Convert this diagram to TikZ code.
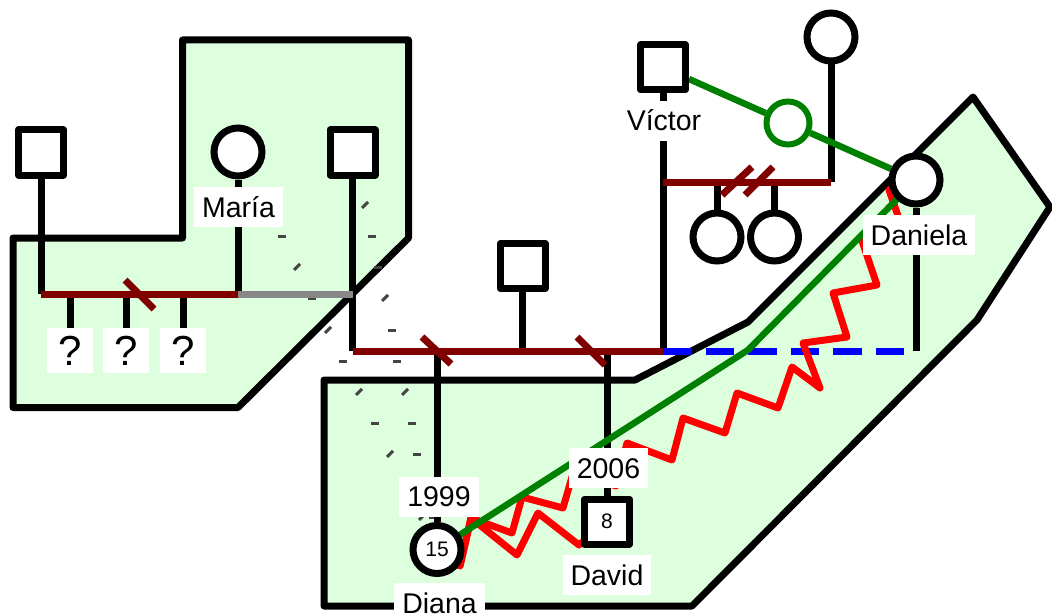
\documentclass[tikz,border=0pt]{standalone}
\usepackage{fontspec}
\setmainfont{Liberation Sans}
\definecolor{regfill}{RGB}{221,255,221}
\definecolor{mred}{RGB}{128,0,0}
\definecolor{rgrey}{RGB}{136,136,136}
\definecolor{rgreen}{RGB}{0,128,0}
\definecolor{tickgrey}{RGB}{68,68,68}
\pgfdeclarelayer{bg}
\pgfdeclarelayer{mid}
\pgfsetlayers{bg,mid,main}
\tikzset{
  region/.style={fill=regfill,draw=black,line width=7pt,line join=round},
  male/.style={rectangle,draw=black,line width=7pt,fill=white,minimum size=45pt,inner sep=0pt,line join=round},
  female/.style={circle,draw=black,line width=7pt,fill=white,minimum size=48pt,inner sep=0pt},
  lbl/.style={fill=white,inner xsep=8pt,inner ysep=6pt,text height=24pt,text depth=4pt,font=\fontsize{28.5}{30}\selectfont},
  qbox/.style={fill=white,minimum width=46pt,minimum height=45pt,inner sep=0pt,font=\fontsize{42}{44}\selectfont},
  numtxt/.style={font=\fontsize{21}{22}\selectfont},
  kin/.style={draw=black,line width=7pt},
  marr/.style={draw=mred,line width=7pt},
  splitmark/.style={draw=mred,line width=7pt},
  greyline/.style={draw=rgrey,line width=7pt},
  hmark/.style={draw=tickgrey,line width=3pt},
  bond/.style={draw=rgreen,line width=6.5pt,line join=round},
  hostile/.style={draw=red,line width=7pt,line join=round},
  distant/.style={draw=blue,line width=7pt,dash pattern=on 28.5pt off 14pt},
}
\begin{document}
\begin{tikzpicture}[x=1pt,y=-1pt]
\useasboundingbox (0,0) rectangle (1052,615);

% ---------- persons ----------
\node[male] (m1) at (41,152.5) {};
\node[female] (maria) at (238,152) {};
\node[male] (m2) at (352.5,152.5) {};
\node[male] (m3) at (522.5,266) {};
\node[male] (victor) at (663,67.5) {};
\node[female] (f1) at (831,37) {};
\node[female] (c1) at (717,237) {};
\node[female] (c2) at (774.5,237) {};
\node[female] (daniela) at (916,180) {};
\node[female,numtxt] (diana) at (437,549.5) {15};
\node[male,numtxt] (david) at (607,521.5) {8};
\node[circle,draw=rgreen,line width=6pt,fill=white,minimum size=43pt,inner sep=0pt] (gc) at (788,123) {};

% ---------- labels ----------
\node[lbl] (lmaria) at (238.5,207) {María};
\node[lbl] (lvictor) at (664,121) {Víctor};
\node[lbl] (ldaniela) at (919,235) {Daniela};
\node[lbl] (l1999) at (439,496.5) {1999};
\node[lbl] (l2006) at (608.5,468) {2006};
\node[lbl] (ldiana) at (439.5,603) {Diana};
\node[lbl] (ldavid) at (607,575) {David};
\node[qbox] (q1) at (70,350.5) {?};
\node[qbox] (q2) at (126,350.5) {?};
\node[qbox] (q3) at (183,350.5) {?};

% ---------- junctions ----------
\coordinate (j1a) at (41,294);
\coordinate (j1b) at (238,294);
\coordinate (j1c) at (352.5,294);
\coordinate (j1q1) at (70,294);
\coordinate (j1q2) at (126,294);
\coordinate (j1q3) at (183,294);
\coordinate (j2a) at (352.5,351);
\coordinate (j2d) at (437,351);
\coordinate (j2m) at (522.5,351);
\coordinate (j2v) at (607,351);
\coordinate (j2b) at (663,351);
\coordinate (j3a) at (663,182);
\coordinate (j3b) at (831,182);
\coordinate (j3c) at (717,182);
\coordinate (j3d) at (774.5,182);
\coordinate (dend) at (916,351);
\coordinate (gbend) at (748,350);

% ---------- regions ----------
\begin{pgfonlayer}{bg}
\path[region] (13,238) -- (182.5,238) -- (182.5,40) -- (408.5,40) -- (408.5,238) -- (238,407.5) -- (13,407.5) -- cycle;
\path[region] (324,380) -- (635,380) -- (748,322) -- (973,97) -- (1050,207) -- (977,320) -- (692,606) -- (324,606) -- cycle;
\foreach \x/\y in {282/236,372/236,378/267,312/298,392/330,343/361,397/361,375/423,412/423,417/454,433/517}
  \draw[hmark] (\x,\y) ++(-4,0) -- ++(8,0);
\foreach \x/\y in {365/205,297/267,385/298,328/330,359/392,405/392,390/454,422/517}
  \draw[hmark] (\x,\y) ++(-3,3) -- ++(6,-6);
\end{pgfonlayer}

% ---------- connectors ----------
\begin{pgfonlayer}{mid}
\draw[kin] (m1) -- (j1a);
\draw[kin] (maria) -- (j1b);
\draw[kin] (m2) -- (j2a);
\draw[kin] (j1q1) -- (q1);
\draw[kin] (j1q2) -- (q2);
\draw[kin] (j1q3) -- (q3);
\draw[kin] (m3) -- (j2m);
\draw[kin] (j2d) -- (diana);
\draw[kin] (j2v) -- (david);
\draw[kin] (victor) -- (j2b);
\draw[kin] (f1) -- (j3b);
\draw[kin] (j3c) -- (c1);
\draw[kin] (j3d) -- (c2);
\draw[kin] (daniela) -- (dend);
\draw[marr] (j1a) -- (j1b);
\draw[greyline] (j1b) -- (j1c);
\draw[marr] (j2a) -- (j2b);
\draw[marr] (j3a) -- (j3b);
\draw[distant] (j2b) -- (dend);
\draw[hostile] (diana.center) -- (460,566) -- (471,518) -- (512,533) -- (522,497) -- (563,508) -- (574,470) -- (616,486) -- (627,443) -- (672,460) -- (683,418) -- (725,433) -- (737,393) -- (778,408) -- (792,367) -- (820,388) -- (803,343) -- (847,337) -- (833,293) -- (877,285) -- (862,241) -- (904,233) -- (889,190) -- (daniela.center);
\draw[hostile] (diana.center) -- (460,566) -- (471,518) -- (517,555) -- (538,513) -- (579,545) -- (david.center);
\draw[bond] (diana.center) -- (gbend) -- (daniela.center);
\draw[bond] (victor) -- (gc);
\draw[bond] (gc) -- (daniela);
\draw[splitmark] (125,280) -- (154,309);
\draw[splitmark] (422,337) -- (451,364);
\draw[splitmark] (577,337) -- (605,365);
\draw[splitmark] (722,195) -- (752,167);
\draw[splitmark] (745,195) -- (773,167);
\end{pgfonlayer}
\end{tikzpicture}
\end{document}
